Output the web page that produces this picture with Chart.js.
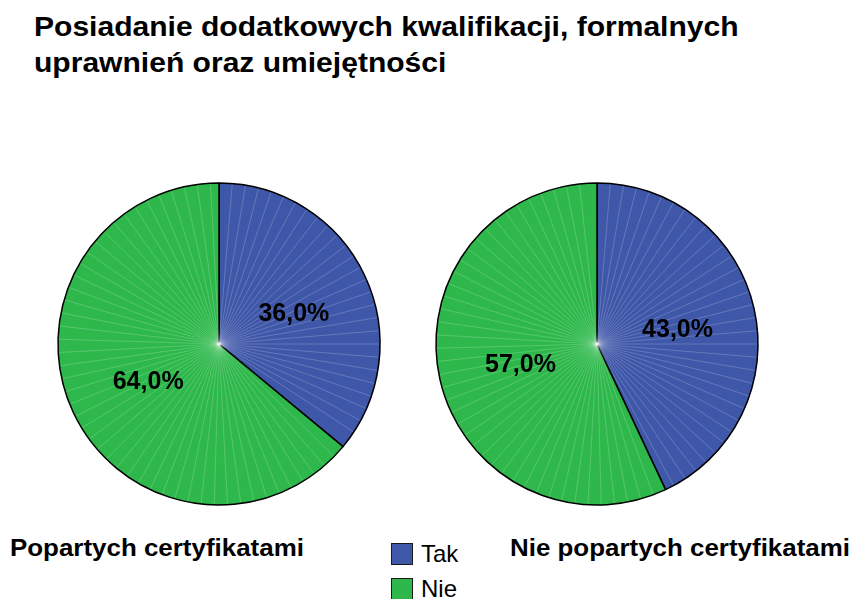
<!DOCTYPE html>
<html>
<head>
<meta charset="utf-8">
<script src="https://cdn.jsdelivr.net/npm/chart.js@4/dist/chart.umd.min.js"></script>
<style>
  body { margin: 0; background: #fff; font-family: "Liberation Sans", Arial, sans-serif; }
  #page { position: relative; width: 853px; height: 599px; overflow: hidden; }
  .title { position: absolute; left: 34px; font-weight: bold; font-size: 28px; white-space: nowrap; line-height: 1; transform: scaleX(1.073); transform-origin: 0 0; }
  .sub { position: absolute; top: 536px; font-weight: bold; font-size: 24px; white-space: nowrap; line-height: 1; transform: scaleX(1.08); transform-origin: 0 0; }
  .pie { position: absolute; top: 174px; width: 340px; height: 340px; }
  .leg { position: absolute; left: 391px; font-size: 24px; line-height: 1; white-space: nowrap; }
  .leg span.box { display: inline-block; width: 20px; height: 20px; border: 1px solid #1a1a1a; vertical-align: -3px; margin-right: 8px; }
</style>
</head>
<body>
<div id="page">
  <div class="title" style="top:13px">Posiadanie dodatkowych kwalifikacji, formalnych</div>
  <div class="title" style="top:49px">uprawnień oraz umiejętności</div>
  <canvas id="pie1" class="pie" style="left:49px"></canvas>
  <canvas id="pie2" class="pie" style="left:427px"></canvas>
  <div class="sub" id="sub1" style="left:10px"></div>
  <div class="sub" id="sub2" style="left:510px"></div>
  <div id="legend"></div>
</div>
<script>
const categories = ["Tak", "Nie"];
const groups = ["Popartych certyfikatami", "Nie popartych certyfikatami"];
const certified = [36.0, 64.0];
const notCertified = [43.0, 57.0];
const colors = ["#3F57A8", "#2EB84B"];

// faint radial lines inside the slices, like the original rendering
const rays = {
  id: "rays",
  afterDatasetsDraw(chart) {
    const ctx = chart.ctx;
    chart.getDatasetMeta(0).data.forEach(arc => {
      const { x, y, startAngle, endAngle, outerRadius } = arc.getProps(["x", "y", "startAngle", "endAngle", "outerRadius"], true);
      ctx.save();
      ctx.strokeStyle = "rgba(255,255,255,0.28)";
      ctx.lineWidth = 0.7;
      const step = Math.PI / 38;
      for (let a = startAngle + step; a < endAngle - step / 2; a += step) {
        ctx.beginPath();
        ctx.moveTo(x, y);
        ctx.lineTo(x + Math.cos(a) * (outerRadius - 1), y + Math.sin(a) * (outerRadius - 1));
        ctx.stroke();
      }
      ctx.restore();
    });
  }
};

const valueLabels = {
  id: "valueLabels",
  afterDatasetsDraw(chart) {
    const ctx = chart.ctx;
    const values = chart.data.datasets[0].data;
    chart.getDatasetMeta(0).data.forEach((arc, i) => {
      const p = arc.tooltipPosition();
      ctx.save();
      ctx.font = "bold 25px 'Liberation Sans', Arial, sans-serif";
      ctx.fillStyle = "#000";
      ctx.textAlign = "center";
      ctx.textBaseline = "middle";
      ctx.fillText(values[i].toFixed(1).replace(".", ",") + "%", p.x + 2, p.y + 4);
      ctx.restore();
    });
  }
};

function makePie(id, values) {
  new Chart(document.getElementById(id), {
    type: "pie",
    data: {
      labels: categories,
      datasets: [{
        data: values,
        backgroundColor: colors,
        borderColor: "#000",
        borderWidth: 1.5,
      }],
    },
    options: {
      responsive: false,
      animation: false,
      radius: 161,
      layout: { padding: 0 },
      plugins: { legend: { display: false }, tooltip: { enabled: false } },
    },
    plugins: [rays, valueLabels],
  });
}

makePie("pie1", certified);
makePie("pie2", notCertified);

document.getElementById("sub1").textContent = groups[0];
document.getElementById("sub2").textContent = groups[1];

const legend = document.getElementById("legend");
categories.forEach((c, i) => {
  const d = document.createElement("div");
  d.className = "leg";
  d.style.top = (542 + i * 35) + "px";
  d.innerHTML = '<span class="box" style="background:' + colors[i] + '"></span>' + c;
  legend.appendChild(d);
});
</script>
</body>
</html>
